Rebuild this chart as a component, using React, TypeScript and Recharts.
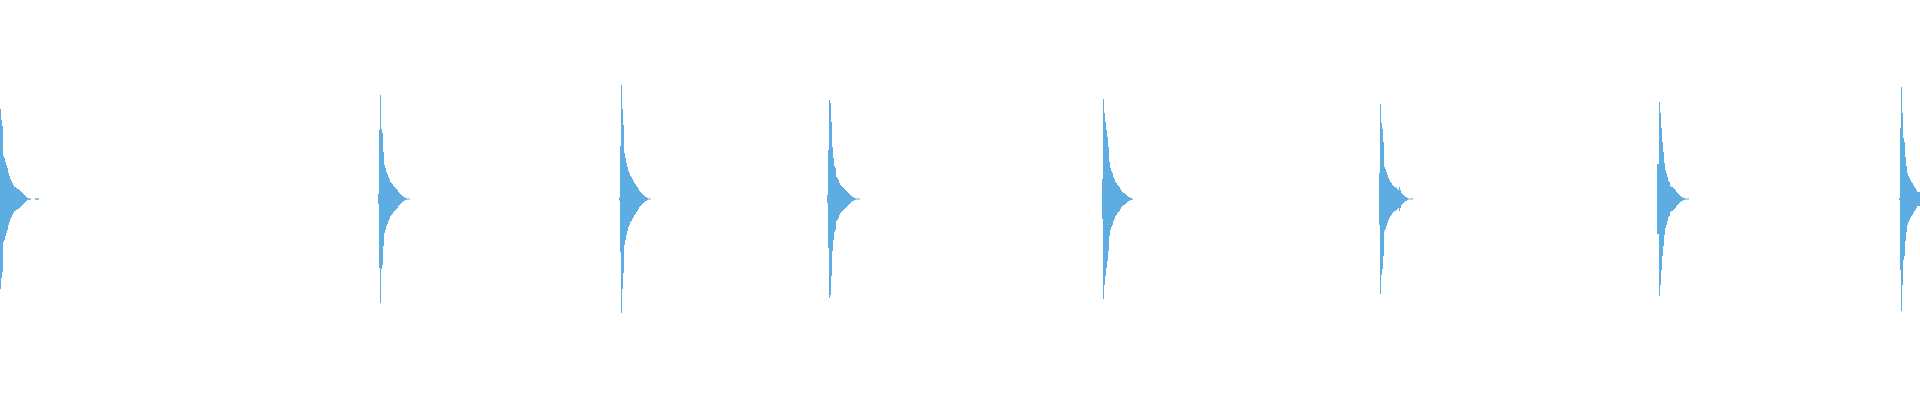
import { Area, AreaChart, XAxis, YAxis } from "recharts";

// sample index where each burst begins
const pulseStarts = [0, 378, 619, 827, 1102, 1379, 1657, 1899];

// envelope amplitude of each burst, one value per sample
const pulse1 = [90, 79, 73, 43, 41, 37, 34, 31, 26, 23, 20, 18, 16, 14, 12, 12, 11, 10, 10, 9, 8, 7, 6, 5, 4, 3, 2, 1, 0.7, 0.7, 0.7, 0, 0, 0, 0, 0.7, 0.7, 0.7, 0.7];
const pulse2 = [5, 69, 104, 70, 66, 47, 34, 31, 27, 25, 22, 20, 17, 16, 15, 13, 12, 11, 10, 9, 7, 6, 5, 4, 3, 2.3, 1.7, 1, 0.7, 0.6, 0.6, 0.6];
const pulse3 = [1.5, 53, 114, 90, 74, 46, 41, 36, 32, 28, 26, 23, 22, 20, 18, 16, 15, 13, 12, 10, 8, 7, 6, 5, 4, 3, 2, 2, 1, 0.6, 0.6, 0.6];
const pulse4 = [4, 49, 99, 96, 77, 52, 41, 33, 31, 22, 21, 19, 16, 14, 13, 12, 11, 10, 9, 8, 7, 6, 5, 4, 3, 2, 2, 1, 0.7, 0.6, 0.6, 0.6, 0.6];
const pulse5 = [20, 100, 86, 77, 69, 62, 52, 37, 31, 28, 26, 22, 20, 17, 16, 14, 13, 12, 10, 8, 7, 6, 6, 5, 4, 3, 2, 2, 1, 1, 0.6];
const pulse6 = [26, 95, 76, 70, 57, 32, 30, 27, 24, 21, 19, 17, 16, 14, 13, 12, 12, 11, 10, 9, 12, 9, 6, 5, 4, 3, 2, 2, 1, 0.6, 0.6, 0.6, 0.6, 0.6];
const pulse7 = [35, 35, 97, 86, 71, 57, 47, 36, 29, 26, 22, 18, 17, 13, 12, 12, 11, 10, 9, 7, 6, 5, 4, 3, 2, 2, 1, 1, 0.6, 0.6, 0.6, 0.6];
const pulse8 = [1, 71, 112, 86, 61, 57, 42, 33, 26, 23, 21, 19, 17, 16, 14, 12, 11, 9, 7, 7, 7, 6];

const pulses = [pulse1, pulse2, pulse3, pulse4, pulse5, pulse6, pulse7, pulse8];

const data: { t: number; range: [number, number] }[] = [];
pulses.forEach((amps, p) => {
  const start = pulseStarts[p];
  amps.forEach((a, i) => data.push({ t: start + i, range: [-a, a] }));
  data.push({ t: start + amps.length, range: [0, 0] });
});

export default function App() {
  return (
    <div style={{ position: "absolute", left: 0, top: 0, width: 1920, height: 400, background: "#fff" }}>
      <AreaChart width={1920} height={400} data={data} margin={{ top: 0, right: 0, bottom: 0, left: 0 }}>
        <XAxis dataKey="t" type="number" domain={[0, 1920]} hide allowDataOverflow />
        <YAxis type="number" domain={[-201, 199]} hide allowDataOverflow />
        <Area
          type="stepAfter"
          dataKey="range"
          stroke="none"
          fill="#5DADE2"
          fillOpacity={1}
          dot={false}
          activeDot={false}
          isAnimationActive={false}
        />
      </AreaChart>
    </div>
  );
}
